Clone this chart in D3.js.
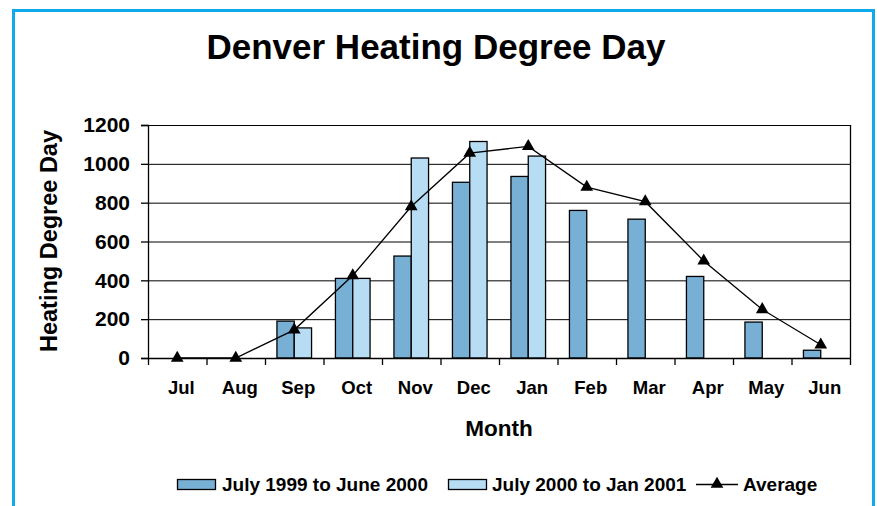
<!DOCTYPE html>
<html>
<head>
<meta charset="utf-8">
<script src="https://cdn.jsdelivr.net/npm/d3@7"></script>
<style>
  body { margin: 0; background: #fff; }
  svg { display: block; font-family: "Liberation Sans", Arial, sans-serif; font-weight: bold; }
</style>
</head>
<body>
<div id="chart"></div>
<script>
// Data
const months = ['Jul', 'Aug', 'Sep', 'Oct', 'Nov', 'Dec', 'Jan', 'Feb', 'Mar', 'Apr', 'May', 'Jun'];
const season1 = [0, 0, 190, 410, 525, 905, 935, 760, 715, 420, 185, 40];       // July 1999 to June 2000
const season2 = [0, 0, 155, 410, 1030, 1115, 1040, null, null, null, null, null]; // July 2000 to Jan 2001
const average = [0, 0, 145, 425, 780, 1055, 1090, 880, 805, 500, 250, 68];
const yTicks = [0, 200, 400, 600, 800, 1000, 1200];
const seriesNames = ['July 1999 to June 2000', 'July 2000 to Jan 2001', 'Average'];

const width = 877;
const height = 506;
const darkBlue = '#78b0d5';
const lightBlue = '#b7ddf5';

function drawChart() {
    const svg = d3.select('#chart')
        .append('svg')
        .attr('width', width)
        .attr('height', height);

    // blue frame round the whole thing (bottom edge runs off the page)
    svg.append('rect')
        .attr('x', 13.5).attr('y', 10.5)
        .attr('width', 860).attr('height', 520)
        .attr('fill', 'none')
        .attr('stroke', '#0fa9ec')
        .attr('stroke-width', 3);

    const plot = { left: 148, right: 850, top: 125, bottom: 358 };

    const xScale = d3.scaleBand().domain(months).range([plot.left, plot.right]);
    const xInner = d3.scaleBand().domain(['s1', 's2'])
        .range([0, xScale.bandwidth()])
        .paddingOuter(0.69);
    const yScale = d3.scaleLinear().domain([0, 1200]).range([plot.bottom, plot.top]);

    // title
    svg.append('text')
        .attr('x', 436).attr('y', 59)
        .attr('text-anchor', 'middle')
        .attr('font-size', 35)
        .text('Denver Heating Degree Day');

    // gridlines
    svg.append('g')
        .selectAll('line')
        .data(yTicks.slice(1))
        .join('line')
        .attr('x1', plot.left).attr('x2', plot.right)
        .attr('y1', d => yScale(d) + 0.5).attr('y2', d => yScale(d) + 0.5)
        .attr('stroke', '#000')
        .attr('stroke-width', 1);

    // right frame edge
    svg.append('line')
        .attr('x1', plot.right + 0.5).attr('x2', plot.right + 0.5)
        .attr('y1', plot.top).attr('y2', plot.bottom)
        .attr('stroke', '#000').attr('stroke-width', 1.3);

    // bars
    const bars = [];
    months.forEach((m, i) => {
        if (season1[i]) bars.push({ month: m, key: 's1', value: season1[i] });
        if (season2[i]) bars.push({ month: m, key: 's2', value: season2[i] });
    });
    svg.append('g')
        .selectAll('rect')
        .data(bars)
        .join('rect')
        .attr('x', d => xScale(d.month) + xInner(d.key))
        .attr('y', d => yScale(d.value))
        .attr('width', xInner.bandwidth())
        .attr('height', d => yScale(0) - yScale(d.value))
        .attr('fill', d => d.key === 's1' ? darkBlue : lightBlue)
        .attr('stroke', '#000')
        .attr('stroke-width', 1.3);

    // y axis
    const yAxis = svg.append('g')
        .attr('transform', `translate(${plot.left}, 0)`)
        .call(d3.axisLeft(yScale).tickValues(yTicks).tickFormat(d3.format('d')).tickSize(7).tickPadding(11));
    yAxis.select('.domain').attr('stroke-width', 1.3);
    yAxis.selectAll('.tick line').attr('stroke-width', 1.3);
    yAxis.selectAll('text')
        .attr('font-size', 21)
        .attr('font-family', '"Liberation Sans", Arial, sans-serif')
        .attr('font-weight', 'bold')
        .attr('fill', '#000');

    // x axis: line plus ticks between the months
    svg.append('line')
        .attr('x1', plot.left).attr('x2', plot.right + 1)
        .attr('y1', plot.bottom + 0.5).attr('y2', plot.bottom + 0.5)
        .attr('stroke', '#000').attr('stroke-width', 1.5);
    const bounds = months.map(m => xScale(m)).concat([plot.right]);
    svg.append('g')
        .selectAll('line')
        .data(bounds)
        .join('line')
        .attr('x1', d => d + 0.5).attr('x2', d => d + 0.5)
        .attr('y1', plot.bottom).attr('y2', plot.bottom + 7)
        .attr('stroke', '#000').attr('stroke-width', 1.3);
    svg.append('g')
        .selectAll('text')
        .data(months)
        .join('text')
        .attr('x', d => xScale(d) + xScale.bandwidth() / 2 + 4)
        .attr('y', 394)
        .attr('text-anchor', 'middle')
        .attr('font-size', 18.5)
        .text(d => d);

    // average line
    const line = d3.line()
        .x((d, i) => xScale(months[i]) + xScale.bandwidth() / 2)
        .y(d => yScale(d));
    svg.append('path')
        .datum(average)
        .attr('d', line)
        .attr('fill', 'none')
        .attr('stroke', '#000')
        .attr('stroke-width', 1.3);
    const tri = d3.symbol().type(d3.symbolTriangle).size(70);
    svg.append('g')
        .selectAll('path')
        .data(average)
        .join('path')
        .attr('transform', (d, i) => `translate(${xScale(months[i]) + xScale.bandwidth() / 2}, ${yScale(d)})`)
        .attr('d', tri)
        .attr('fill', '#000');

    // axis titles
    svg.append('text')
        .attr('transform', 'translate(57, 241) rotate(-90)')
        .attr('text-anchor', 'middle')
        .attr('font-size', 23.5)
        .text('Heating Degree Day');
    svg.append('text')
        .attr('x', 499).attr('y', 436)
        .attr('text-anchor', 'middle')
        .attr('font-size', 22.5)
        .text('Month');

    // legend
    const legend = svg.append('g').attr('font-size', 19);
    legend.append('rect')
        .attr('x', 177.5).attr('y', 479.5).attr('width', 38).attr('height', 10)
        .attr('fill', darkBlue).attr('stroke', '#000').attr('stroke-width', 1.3);
    legend.append('text').attr('x', 222).attr('y', 491).text(seriesNames[0]);
    legend.append('rect')
        .attr('x', 448.5).attr('y', 479.5).attr('width', 38).attr('height', 10)
        .attr('fill', lightBlue).attr('stroke', '#000').attr('stroke-width', 1.3);
    legend.append('text').attr('x', 492).attr('y', 491).text(seriesNames[1]);
    legend.append('line')
        .attr('x1', 696).attr('x2', 738).attr('y1', 484.5).attr('y2', 484.5)
        .attr('stroke', '#000').attr('stroke-width', 1.3);
    legend.append('path')
        .attr('transform', 'translate(717, 484)')
        .attr('d', tri)
        .attr('fill', '#000');
    legend.append('text').attr('x', 743).attr('y', 491).text(seriesNames[2]);
}

document.addEventListener('DOMContentLoaded', drawChart);
</script>
</body>
</html>
